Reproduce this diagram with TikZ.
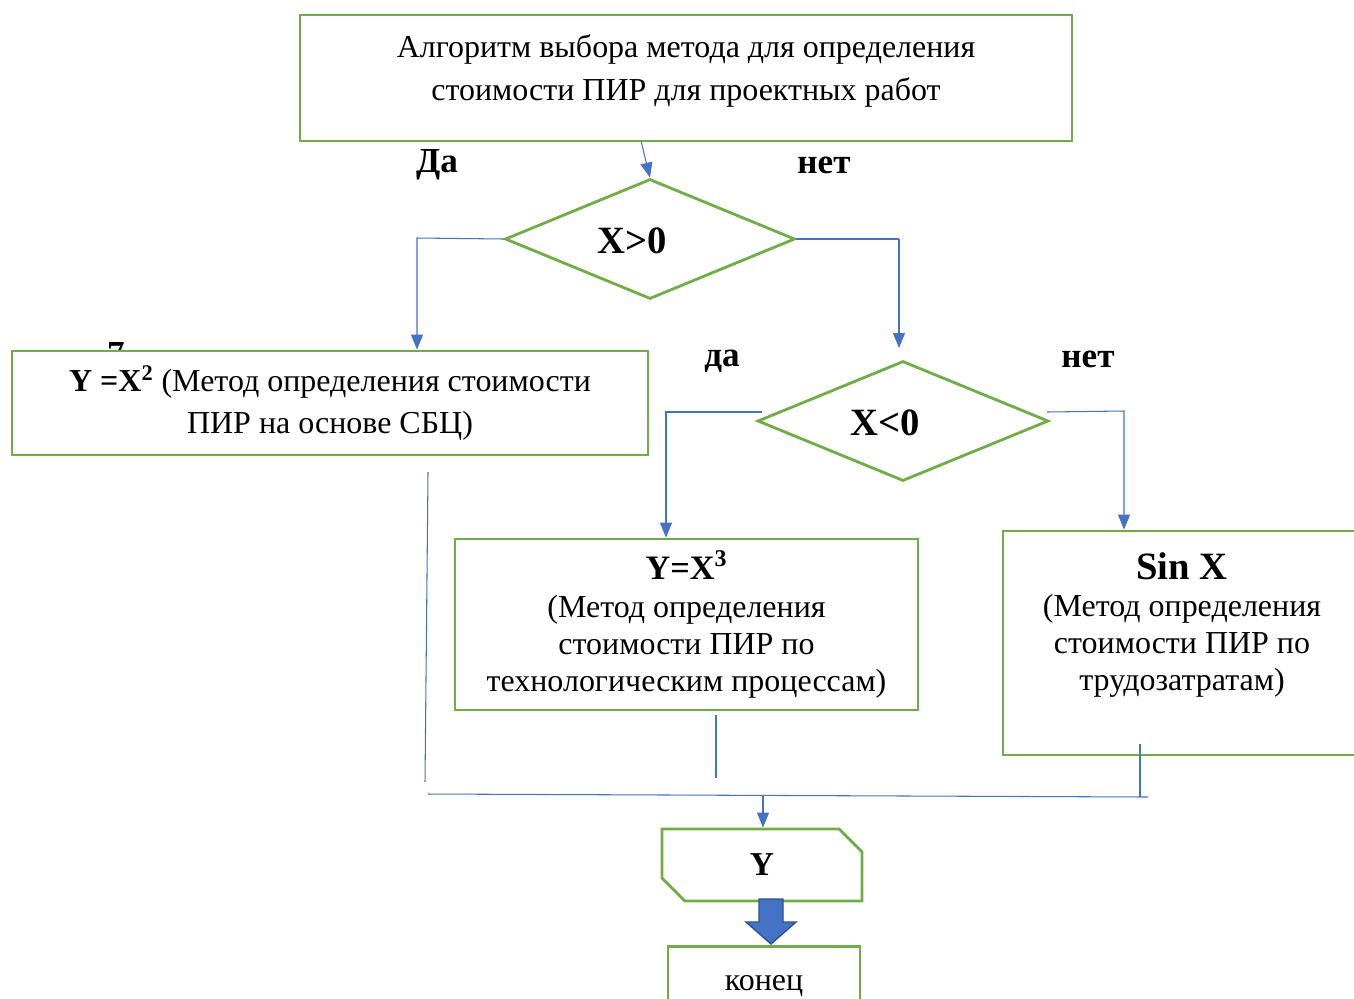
\documentclass[tikz,border=0pt]{standalone}
\usepackage{fontspec}
\setmainfont{Liberation Serif}
\usetikzlibrary{shapes.geometric,shapes.misc,arrows.meta}
\definecolor{boxgreen}{HTML}{70AD47}
\definecolor{linkblue}{HTML}{4472C4}
\definecolor{arrowedge}{HTML}{2F528F}

\begin{document}
\begin{tikzpicture}[x=0.02cm,y=-0.02cm,
    blk/.style={rectangle,draw=boxgreen,line width=1.6pt,fill=white,align=center,inner sep=0pt,font=\fontsize{18.2}{24}\selectfont},
    cond/.style={diamond,draw=boxgreen,line width=1.6pt,fill=white,inner sep=0pt},
    condtxt/.style={inner sep=0pt,font=\fontsize{22}{26}\selectfont\bfseries},
    lnk/.style={draw=linkblue,line width=0.6pt},
    lnkarr/.style={lnk,-{Triangle[length=0.3cm,width=0.24cm,fill=linkblue]}},
    lbl/.style={font=\fontsize{20}{24}\selectfont\bfseries},
    txt/.style={align=center,inner sep=0pt,font=\fontsize{18.2}{21.2}\selectfont}]
  \useasboundingbox (0,0) rectangle (1354,998);

  % blocks
  \node[blk,minimum width=15.44cm,minimum height=2.52cm] (title) at (686,78) {};
  \node[txt,font=\fontsize{18.2}{24.4}\selectfont] (titletxt) at (686,71)
    {Алгоритм выбора метода для определения\\стоимости ПИР для проектных работ};
  \node[cond,minimum width=5.8cm,minimum height=2.4cm] (d1) at (650,239) {};
  \node[condtxt] (d1txt) at (632,241) {X>0};
  \node[lbl] (frag) at (116,354) {7};
  \node[blk,minimum width=12.72cm,minimum height=2.08cm] (box2) at (330,403)
    {\textbf{Y =X\textsuperscript{2}} (Метод определения стоимости\\ПИР на основе СБЦ)};
  \node[cond,minimum width=5.82cm,minimum height=2.4cm] (d2) at (903,421) {};
  \node[condtxt] (d2txt) at (885,423) {X<0};
  \node[blk,minimum width=9.26cm,minimum height=3.42cm,font=\fontsize{18.2}{21.2}\selectfont] (box3) at (686.5,624.5)
    {\textbf{\fontsize{19.5}{21.2}\selectfont Y=X\textsuperscript{3}}\\(Метод определения\\стоимости ПИР по\\технологическим процессам)};
  \node[blk,minimum width=7.18cm,minimum height=4.48cm] (box4) at (1182.5,643) {};
  \node[txt] (box4txt) at (1182,625)
    {\textbf{\fontsize{22}{21.2}\selectfont Sin X}\\(Метод определения\\стоимости ПИР по\\трудозатратам)};
  \node[blk,chamfered rectangle,chamfered rectangle corners={north east,south west},
    chamfered rectangle xsep=0.24cm,chamfered rectangle ysep=0.24cm,
    minimum width=4cm,minimum height=1.44cm,font=\fontsize{19}{24}\selectfont\bfseries] (yout) at (762,865) {Y};
  \node[blk,minimum width=3.84cm,minimum height=1.3cm,text depth=0pt,anchor=north] (fin) at (764,945) {\raisebox{-0.16cm}{конец}};

  % labels
  \node[lbl] (yes1) at (437,165) {Да};
  \node[lbl] (no1) at (824,165) {нет};
  \node[lbl] (yes2) at (722,361) {да};
  \node[lbl] (no2) at (1088,359) {нет};

  % connectors
  \coordinate (t1) at (641,141);
  \coordinate (ya) at (417,238);
  \coordinate (na) at (899,239);
  \coordinate (nb) at (899,348);
  \coordinate (ys) at (762,412);
  \coordinate (yb) at (666,412);
  \coordinate (ns) at (1047,412);
  \coordinate (nc) at (1124,411);
  \draw[lnkarr] (t1) -- (d1.north);
  \draw[lnkarr] (d1.west) -- (ya) -- (ya |- box2.north);
  \draw[lnk] (d1.east) -- (na);
  \draw[lnkarr] (na) -- (nb);
  \draw[lnkarr] (ys) -- (yb) -- (yb |- box3.north);
  \draw[lnkarr] (ns) -- (nc) -- (nc |- box4.north);

  % merge
  \coordinate (m1a) at (428,472);
  \coordinate (m1b) at (425,782);
  \coordinate (m2a) at (716,715);
  \coordinate (m2b) at (716,778);
  \coordinate (m3a) at (1140,744);
  \coordinate (m3b) at (1140,797);
  \coordinate (ja) at (428,794);
  \coordinate (jb) at (1148,797);
  \coordinate (jm) at (763,795);
  \draw[lnk] (m1a) -- (m1b);
  \draw[lnk] (m2a) -- (m2b);
  \draw[lnk] (m3a) -- (m3b);
  \draw[lnk] (ja) -- (jb);
  \draw[lnkarr] (jm) -- (jm |- yout.north);

  % big arrow
  \draw[fill=linkblue,draw=arrowedge,line width=0.8pt] (759,899) -- ++(24,0) -- ++(0,23) -- ++(13,0)
    -- ++(-25,22) -- ++(-25,-22) -- ++(13,0) -- cycle;
\end{tikzpicture}
\end{document}
